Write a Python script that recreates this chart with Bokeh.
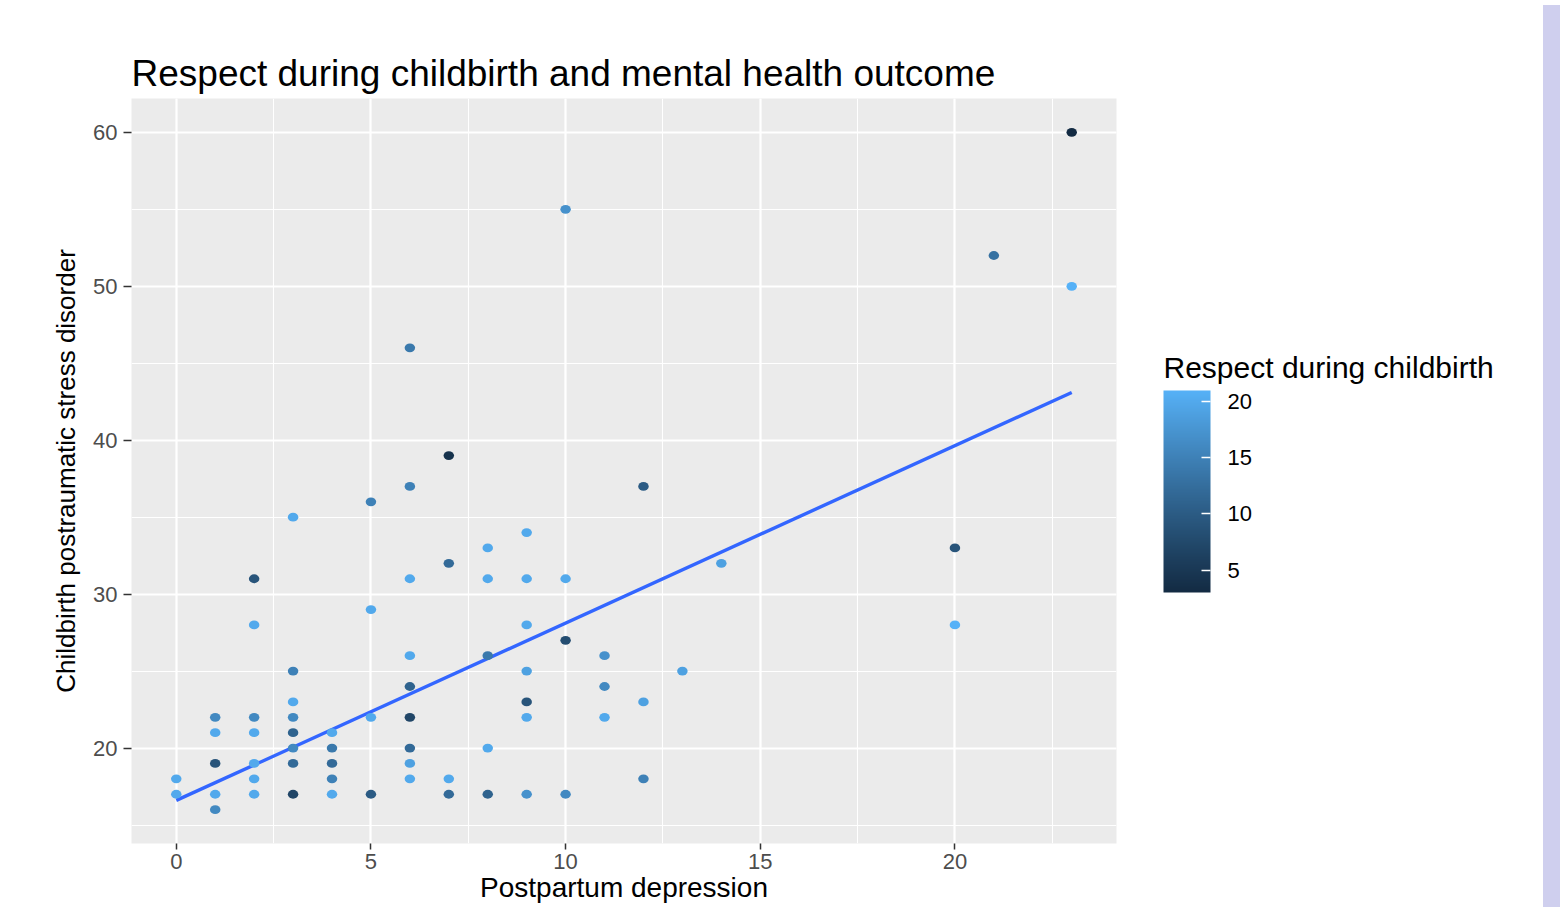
import numpy as np
from bokeh.plotting import figure
from bokeh.models import (Range1d, SingleIntervalTicker, ColorBar, LinearColorMapper,
                          FixedTicker, Div)
from bokeh.layouts import row
from bokeh.embed import file_html
from bokeh.resources import INLINE

# ---------------- data ----------------
depression = [0, 0,
              1, 1, 1, 1, 1,
              2, 2, 2, 2, 2, 2, 2,
              3, 3, 3, 3, 3, 3, 3, 3,
              4, 4, 4, 4, 4,
              5, 5, 5, 5,
              6, 6, 6, 6, 6, 6, 6, 6, 6,
              7, 7, 7, 7,
              8, 8, 8, 8, 8,
              9, 9, 9, 9, 9, 9, 9,
              10, 10, 10, 10,
              11, 11, 11,
              12, 12, 12,
              13, 14, 20, 20, 21, 23, 23]
ptsd = [18, 17,
        22, 21, 19, 17, 16,
        31, 28, 22, 21, 19, 18, 17,
        35, 25, 23, 22, 21, 20, 19, 17,
        21, 20, 19, 18, 17,
        36, 29, 22, 17,
        46, 37, 31, 26, 24, 22, 20, 19, 18,
        39, 32, 18, 17,
        33, 31, 26, 20, 17,
        34, 31, 28, 25, 23, 22, 17,
        55, 31, 27, 17,
        26, 24, 22,
        37, 23, 18,
        25, 32, 33, 28, 52, 60, 50]
respect = [20, 20,
           16, 20, 9, 20, 16,
           9, 20, 16, 20, 20, 20, 20,
           20, 15, 20, 16, 11, 16, 12, 7,
           20, 14, 12, 15, 20,
           15, 20, 20, 10,
           14, 15, 20, 20, 11, 7, 12, 19, 20,
           4, 12, 20, 12,
           20, 20, 14, 20, 11,
           20, 20, 20, 19, 9, 20, 17,
           17, 20, 8, 16,
           17, 16, 20,
           10, 19, 15,
           19, 19, 9, 21, 13, 3, 21]
trend_x = [0, 23]
trend_y = [16.6, 43.1]
legend_ticks = [5, 10, 15, 20]

LOW_COL, HIGH_COL = "#132B43", "#56B1F7"


# ---------------- Lab colour interpolation (like ggplot2) ----------------
def _hex_rgb(h):
    h = h.lstrip("#")
    return np.array([int(h[i:i + 2], 16) / 255 for i in (0, 2, 4)])


_M = np.array([[0.4124564, 0.3575761, 0.1804375],
               [0.2126729, 0.7151522, 0.0721750],
               [0.0193339, 0.1191920, 0.9503041]])
_WN = np.array([0.95047, 1.0, 1.08883])


def _rgb_lab(rgb):
    lin = np.where(rgb <= 0.04045, rgb / 12.92, ((rgb + 0.055) / 1.055) ** 2.4)
    xyz = _M @ lin / _WN
    d = 6 / 29
    f = np.where(xyz > d ** 3, np.cbrt(xyz), xyz / (3 * d * d) + 4 / 29)
    return np.array([116 * f[1] - 16, 500 * (f[0] - f[1]), 200 * (f[1] - f[2])])


def _lab_hex(lab):
    L, a, b = lab
    fy = (L + 16) / 116
    fx = fy + a / 500
    fz = fy - b / 200
    d = 6 / 29
    f = np.array([fx, fy, fz])
    xyz = np.where(f > d, f ** 3, 3 * d * d * (f - 4 / 29)) * _WN
    lin = np.linalg.inv(_M) @ xyz
    lin = np.clip(lin, 0, 1)
    rgb = np.where(lin <= 0.0031308, 12.92 * lin, 1.055 * lin ** (1 / 2.4) - 0.055)
    rgb = np.clip(np.round(rgb * 255), 0, 255).astype(int)
    return "#%02x%02x%02x" % tuple(rgb)


LAB_LO, LAB_HI = _rgb_lab(_hex_rgb(LOW_COL)), _rgb_lab(_hex_rgb(HIGH_COL))
vmin, vmax = min(respect), max(respect)


def colour(v):
    t = (v - vmin) / (vmax - vmin)
    return _lab_hex(LAB_LO + t * (LAB_HI - LAB_LO))


point_colors = [colour(v) for v in respect]
palette = [_lab_hex(LAB_LO + t * (LAB_HI - LAB_LO)) for t in np.linspace(0, 1, 256)]

FONT = "Liberation Sans"

# ---------------- main figure ----------------
p = figure(width=1150, height=907, output_backend="svg", toolbar_location=None,
           x_range=Range1d(-1.15, 24.15), y_range=Range1d(13.8, 62.2),
           min_border_left=131, min_border_right=34, min_border_top=98,
           min_border_bottom=64)
p.frame_align = False
p.background_fill_color = "#EBEBEB"
p.border_fill_color = "white"
p.outline_line_color = None

p.title.text = "Respect during childbirth and mental health outcome"
p.title.text_font = FONT
p.title.text_font_size = "37px"
p.title.text_font_style = "normal"
p.title.text_color = "black"
p.title.align = "left"
p.title.standoff = 9

p.xaxis.ticker = SingleIntervalTicker(interval=5, num_minor_ticks=2)
p.yaxis.ticker = SingleIntervalTicker(interval=10, num_minor_ticks=2)

for ax in (p.xaxis[0], p.yaxis[0]):
    ax.axis_line_color = None
    ax.major_tick_line_color = "#333333"
    ax.major_tick_line_width = 1.5
    ax.major_tick_in = 0
    ax.minor_tick_line_color = None
    ax.major_label_text_font = FONT
    ax.major_label_text_font_size = "22px"
    ax.major_label_text_color = "#4D4D4D"
    ax.axis_label_text_font = FONT
    ax.axis_label_text_font_style = "normal"
    ax.axis_label_text_color = "black"

p.xaxis.major_tick_out = 6
p.xaxis.major_label_standoff = 4
p.xaxis.axis_label = "Postpartum depression"
p.xaxis.axis_label_text_font_size = "28px"
p.xaxis.axis_label_standoff = 0
p.yaxis.major_tick_out = 8
p.yaxis.major_label_standoff = 6
p.yaxis.axis_label = "Childbirth postraumatic stress disorder"
p.yaxis.axis_label_text_font_size = "26px"
p.yaxis.axis_label_standoff = 9

for g in (p.xgrid[0], p.ygrid[0]):
    g.grid_line_color = "white"
    g.grid_line_width = 2.2
    g.minor_grid_line_color = "white"
    g.minor_grid_line_width = 1.1

# regression line
p.line(trend_x, trend_y, line_color="#3366FF", line_width=3.4)

# points
p.ellipse(x=depression, y=ptsd, width=10.5, height=8.8, width_units="screen",
          height_units="screen", fill_color=point_colors, line_color=None)

# ---------------- legend panel (colour bar with horizontal title) ----------------
lg = figure(width=388, height=907, output_backend="svg", toolbar_location=None,
            x_range=Range1d(0, 1), y_range=Range1d(0, 1),
            x_axis_location=None, y_axis_location=None,
            min_border_left=13, min_border_right=328, min_border_top=390,
            min_border_bottom=315)
lg.frame_align = False
lg.grid.visible = False
lg.outline_line_color = None
lg.background_fill_color = "white"
lg.border_fill_color = "white"
lg.title.text = "Respect during childbirth"
lg.title.text_font = FONT
lg.title.text_font_size = "30px"
lg.title.text_font_style = "normal"
lg.title.text_color = "black"
lg.title.align = "left"
lg.title.standoff = 13

mapper = LinearColorMapper(palette=palette, low=vmin, high=vmax)
cbar = ColorBar(color_mapper=mapper, ticker=FixedTicker(ticks=legend_ticks),
                width=47, height=202, location=(0, 0), padding=0, margin=0,
                title=None,
                major_label_text_font=FONT, major_label_text_font_size="22px",
                major_label_text_color="black", label_standoff=17,
                major_tick_in=9, major_tick_out=0, major_tick_line_color="white",
                major_tick_line_width=1.5, minor_tick_line_color=None,
                bar_line_color=None, border_line_color=None,
                background_fill_color=None)
lg.add_layout(cbar, "center")

strip = Div(text="", width=22, height=907, styles={"background-color": "#CFCFEE"})

layout = row(p, lg, strip)
open("out.html", "w").write(file_html(layout, INLINE))
